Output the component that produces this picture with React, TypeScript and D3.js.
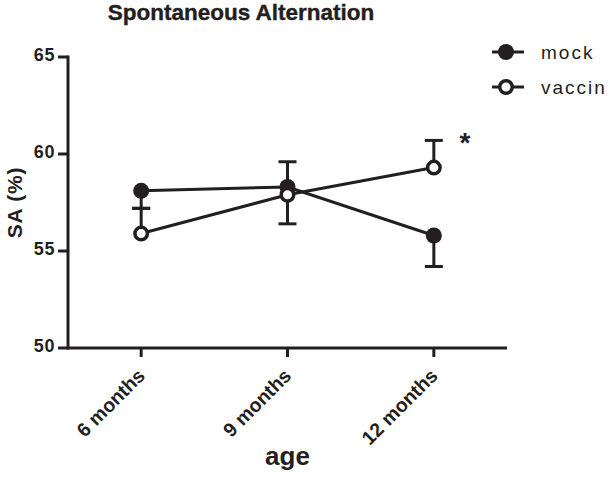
import React from "react";
import * as d3 from "d3";

const categories = ["6 months", "9 months", "12 months"];
const mockValues = [58.1, 58.3, 55.8];
const mockErrBelow = [0.9, 1.9, 1.6];
const vaccinValues = [55.9, 57.9, 59.3];
const vaccinErrAbove = [1.3, 1.7, 1.4];
const yTicks = [50, 55, 60, 65];
const seriesNames = ["mock", "vaccin"];

const W = 610;
const H = 492;
const INK = "#231f20";
const FONT = "'Liberation Sans', Arial, Helvetica, sans-serif";

export default function App() {
  const x = d3.scalePoint<string>().domain(categories).range([68, 507]).padding(0.5);
  const y = d3.scaleLinear().domain([50, 65]).range([348, 57]);
  const line = d3
    .line<number>()
    .x((_, i) => x(categories[i]) as number)
    .y((d) => y(d));
  const capHalf = 9;
  const r = 8;

  const series = [
    { name: seriesNames[0], values: mockValues, err: mockErrBelow, dir: -1, filled: true },
    { name: seriesNames[1], values: vaccinValues, err: vaccinErrAbove, dir: 1, filled: false },
  ];

  const marker = (cx: number, cy: number, filled: boolean, key: string) => (
    <circle
      key={key}
      cx={cx}
      cy={cy}
      r={filled ? r : r - 1.75}
      fill={filled ? INK : "#fff"}
      stroke={INK}
      strokeWidth={filled ? 0 : 3.5}
    />
  );

  return (
    <svg
      width={W}
      height={H}
      style={{ position: "absolute", left: 0, top: 0, background: "#fff" }}
      fontFamily={FONT}
    >
      <rect width={W} height={H} fill="#fff" />
      <text x={241} y={20} textAnchor="middle" fontSize={22.5} fontWeight="bold" fill={INK} stroke={INK} strokeWidth={0.4}>
        Spontaneous Alternation
      </text>

      {/* y axis */}
      <line x1={68} x2={68} y1={y(65) - 1.5} y2={y(50) + 1.5} stroke={INK} strokeWidth={3} />
      {yTicks.map((t) => (
        <g key={t}>
          <line x1={58} x2={68} y1={y(t)} y2={y(t)} stroke={INK} strokeWidth={3} />
          <text x={55} y={y(t) - 2} dy="0.35em" textAnchor="end" fontSize={18} fontWeight="bold" fill={INK} letterSpacing={0.6}>
            {t}
          </text>
        </g>
      ))}
      <text
        transform={`translate(22,${(y(50) + y(65)) / 2}) rotate(-90)`}
        textAnchor="middle"
        fontSize={21}
        fontWeight="bold"
        fill={INK}
        letterSpacing={0.8}
      >
        SA (%)
      </text>

      {/* x axis */}
      <line x1={66.5} x2={507} y1={y(50)} y2={y(50)} stroke={INK} strokeWidth={3} />
      {categories.map((c) => (
        <g key={c}>
          <line x1={x(c)} x2={x(c)} y1={y(50)} y2={y(50) + 9} stroke={INK} strokeWidth={3} />
          <text
            transform={`translate(${(x(c) as number) + 5},${y(50) + 29}) rotate(-45)`}
            textAnchor="end"
            fontSize={19.5}
            fontWeight="bold"
            fill={INK}
          >
            {c}
          </text>
        </g>
      ))}
      <text x={x("9 months")} y={465} textAnchor="middle" fontSize={26} fontWeight="bold" fill={INK}>
        age
      </text>

      {/* error bars */}
      {series.map((s) =>
        s.values.map((v, i) => {
          const cx = x(categories[i]) as number;
          const end = y(v + s.dir * s.err[i]);
          return (
            <g key={s.name + i}>
              <line x1={cx} x2={cx} y1={y(v)} y2={end} stroke={INK} strokeWidth={3} />
              <line x1={cx - capHalf} x2={cx + capHalf} y1={end} y2={end} stroke={INK} strokeWidth={3} />
            </g>
          );
        })
      )}

      {/* lines */}
      {series.map((s) => (
        <path key={s.name} d={line(s.values) || ""} fill="none" stroke={INK} strokeWidth={3} />
      ))}

      {/* markers */}
      {series.map((s) =>
        s.values.map((v, i) => marker(x(categories[i]) as number, y(v), s.filled, s.name + "m" + i))
      )}

      <text x={465} y={152} textAnchor="middle" fontSize={28} fontWeight="bold" fill={INK}>
        *
      </text>

      {/* legend */}
      {series.map((s, i) => {
        const ly = 52 + i * 35;
        return (
          <g key={s.name + "leg"}>
            <line x1={492} x2={524} y1={ly} y2={ly} stroke={INK} strokeWidth={3} />
            {marker(506, ly, s.filled, s.name + "lm")}
            <text x={541} y={ly} dy="0.36em" fontSize={19} fill={INK} letterSpacing={2}>
              {s.name}
            </text>
          </g>
        );
      })}
    </svg>
  );
}
